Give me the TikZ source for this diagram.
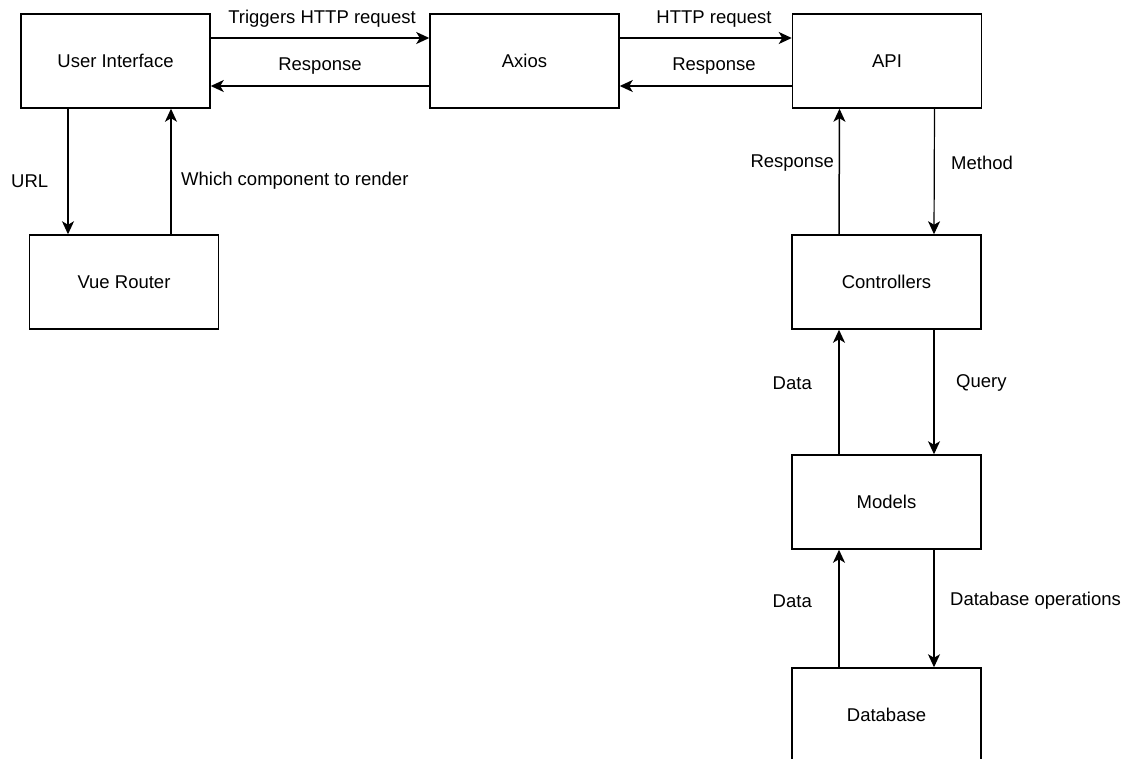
\documentclass[tikz,border=0pt]{standalone}
\usepackage{fontspec}
\setmainfont{Liberation Sans}
\usetikzlibrary{arrows.meta}
\begin{document}
\begin{tikzpicture}[x=1pt,y=-1pt,
  box/.style={draw, line width=1.5pt, minimum width=189pt, minimum height=94pt, inner sep=0pt, font=\fontsize{18.5}{22}\selectfont},
  lbl/.style={font=\fontsize{18.5}{22}\selectfont, inner sep=0pt},
  conn/.style={line width=1.5pt, -{Stealth[length=13pt,width=12pt,inset=3.5pt]}},
  thin conn/.style={conn, line width=1.2pt}]
\useasboundingbox (0,0) rectangle (1135,758);
\clip (0,0) rectangle (1135,758);
\node[box] (ui) at (115.5,61) {User Interface};
\node[box] (ax) at (524.5,61) {Axios};
\node[box] (api) at (887,61) {API};
\node[box] (vr) at (124,282) {Vue Router};
\node[box] (ctl) at (886.5,282) {Controllers};
\node[box] (mdl) at (886.5,502) {Models};
\node[box] (db) at (886.5,715) {Database};
% horizontal
\draw[conn] ([yshift=23pt]ui.east) -- ([yshift=23pt]ax.west);
\draw[conn] ([yshift=-25pt]ax.west) -- ([yshift=-25pt]ui.east);
\draw[conn] ([yshift=23pt]ax.east) -- ([yshift=23pt]api.west);
\draw[conn] ([yshift=-25pt]api.west) -- ([yshift=-25pt]ax.east);
% UI / Vue Router
\draw[thin conn] ([xshift=-47.5pt]ui.south) -- ([xshift=-47.5pt]ui.south |- vr.north);
\draw[thin conn] ([xshift=47pt]vr.north) -- ([xshift=47pt]vr.north |- ui.south);
% backend column
\draw[conn] ([xshift=-47.5pt]ctl.north) -- ([xshift=-47.5pt]api.south);
\draw[thin conn] ([xshift=47.5pt]api.south) -- ([xshift=47.5pt]ctl.north);
\draw[conn] ([xshift=-47.5pt]mdl.north) -- ([xshift=-47.5pt]ctl.south);
\draw[thin conn] ([xshift=47.5pt]ctl.south) -- ([xshift=47.5pt]mdl.north);
\draw[conn] ([xshift=-47.5pt]db.north) -- ([xshift=-47.5pt]mdl.south);
\draw[thin conn] ([xshift=47.5pt]mdl.south) -- ([xshift=47.5pt]db.north);
% labels
\node[lbl] (l1) at (322,19) {Triggers HTTP request};
\node[lbl] (l2) at (320,66) {Response};
\node[lbl] (l3) at (714,19) {HTTP request};
\node[lbl] (l4) at (714,66) {Response};
\node[lbl, anchor=west] (l5) at (11,181) {URL};
\node[lbl, anchor=west] (l6) at (181,181) {Which component to render};
\node[lbl, anchor=east] (l7) at (834,163) {Response};
\node[lbl, anchor=west] (l8) at (951,163) {Method};
\node[lbl, anchor=east] (l9) at (812,383) {Data};
\node[lbl, anchor=west] (l10) at (956,383) {Query};
\node[lbl, anchor=east] (l11) at (812,601) {Data};
\node[lbl, anchor=west] (l12) at (950,601) {Database operations};
\end{tikzpicture}
\end{document}
